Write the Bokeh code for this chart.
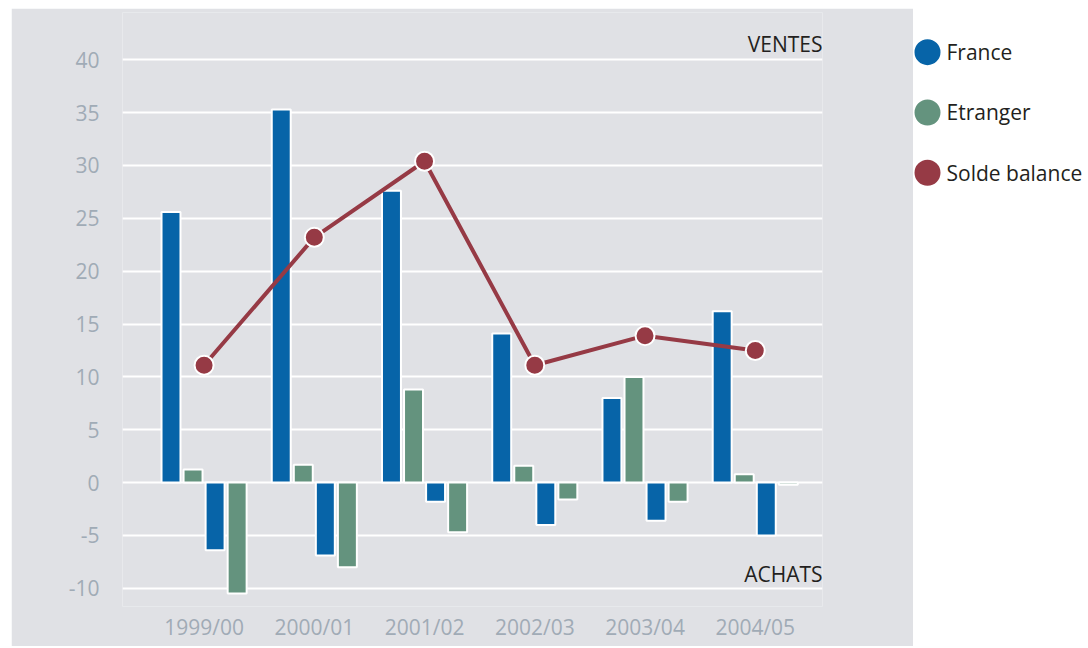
from bokeh.plotting import figure
from bokeh.models import ColumnDataSource, Range1d, FixedTicker, Label
from bokeh.layouts import row
from bokeh.transform import dodge
from bokeh.core.properties import value
from bokeh.embed import file_html
from bokeh.resources import INLINE

# ---- data ----
years = ["1999/00", "2000/01", "2001/02", "2002/03", "2003/04", "2004/05"]
france_ventes = [25.6, 35.3, 27.6, 14.1, 8.0, 16.2]
etranger_ventes = [1.25, 1.7, 8.8, 1.6, 10.0, 0.8]
france_achats = [-6.4, -6.9, -1.8, -4.0, -3.6, -5.0]
etranger_achats = [-10.5, -8.0, -4.7, -1.6, -1.8, -0.2]
solde_balance = [11.1, 23.2, 30.4, 11.1, 13.9, 12.5]
y_ticks = [-10, -5, 0, 5, 10, 15, 20, 25, 30, 35, 40]
series = ["France", "Etranger", "Solde balance"]
colors = ["#0764a8", "#64937e", "#963a45"]

FONT = "Open Sans"
BG = "#e0e1e5"
TICK_COLOR = "#a0abb6"
DARK = "#231f20"
FS = "21px"

src = ColumnDataSource(dict(
    x=list(range(len(years))),
    fv=france_ventes, ev=etranger_ventes,
    fa=france_achats, ea=etranger_achats,
    s=solde_balance,
))

X0, X1 = -0.74, 5.61
p = figure(width=902, height=638,
           x_range=Range1d(X0, X1), y_range=Range1d(-11.72, 44.47),
           output_backend="svg", toolbar_location=None,
           min_border_left=111, min_border_right=91,
           min_border_top=4, min_border_bottom=40)
p.margin = (8, 0, 0, 11)
p.background_fill_color = BG
p.border_fill_color = BG
p.outline_line_color = None

# axes
p.yaxis.ticker = FixedTicker(ticks=y_ticks)
p.yaxis.major_label_overrides = {t: str(t) for t in y_ticks}
p.ygrid.ticker = FixedTicker(ticks=y_ticks)
p.ygrid.grid_line_color = "white"
p.ygrid.grid_line_width = 2
p.xgrid.grid_line_color = None
p.xaxis.ticker = FixedTicker(ticks=list(range(len(years))))
p.xaxis.major_label_overrides = {i: y for i, y in enumerate(years)}
for ax in (p.xaxis[0], p.yaxis[0]):
    ax.axis_line_color = None
    ax.major_tick_line_color = None
    ax.minor_tick_line_color = None
    ax.major_tick_out = 0
    ax.major_tick_in = 0
    ax.major_label_text_font = FONT
    ax.major_label_text_font_size = FS
    ax.major_label_text_color = TICK_COLOR
p.yaxis.major_label_standoff = 23
p.xaxis.major_label_standoff = 6

bw = 0.172
bar_kw = dict(source=src, bottom=0, width=bw, line_color="white", line_width=2)
p.vbar(x=dodge("x", -0.3, range=p.x_range), top="fv", fill_color=colors[0], **bar_kw)
p.vbar(x=dodge("x", -0.1, range=p.x_range), top="ev", fill_color=colors[1], **bar_kw)
p.vbar(x=dodge("x", 0.1, range=p.x_range), top="fa", fill_color=colors[0], **bar_kw)
p.vbar(x=dodge("x", 0.3, range=p.x_range), top="ea", fill_color=colors[1], **bar_kw)

p.line("x", "s", source=src, line_color=colors[2], line_width=4)
p.scatter("x", "s", source=src, size=19, fill_color=colors[2],
          line_color="white", line_width=2)

p.add_layout(Label(x=X1, y=41.5, text="VENTES", text_align="right",
                   text_baseline="middle", text_font=FONT,
                   text_font_size=FS, text_color=DARK))
p.add_layout(Label(x=X1, y=-8.65, text="ACHATS", text_align="right",
                   text_baseline="middle", text_font=FONT,
                   text_font_size=FS, text_color=DARK))

# ---- legend panel (frame aligned with the chart frame) ----
leg = figure(width=172, height=638, x_range=Range1d(0, 172),
             y_range=Range1d(9.192, -0.658),
             x_axis_type=None, y_axis_type=None,
             output_backend="svg", toolbar_location=None,
             min_border_left=0, min_border_right=0,
             min_border_top=4, min_border_bottom=40)
leg.margin = (8, 0, 0, 0)
leg.grid.visible = False
leg.outline_line_color = None
leg.background_fill_color = "white"
leg.border_fill_color = "white"
lsrc = ColumnDataSource(dict(y=list(range(len(series))), label=series, color=colors))
leg.scatter(x=14, y="y", source=lsrc, size=26, fill_color="color", line_color=None)
leg.text(x=33, y="y", text="label", source=lsrc, text_font=value(FONT),
         text_font_size=FS, text_color=DARK, text_baseline="middle")

layout = row(p, leg)
open("out.html", "w").write(file_html(layout, INLINE))
